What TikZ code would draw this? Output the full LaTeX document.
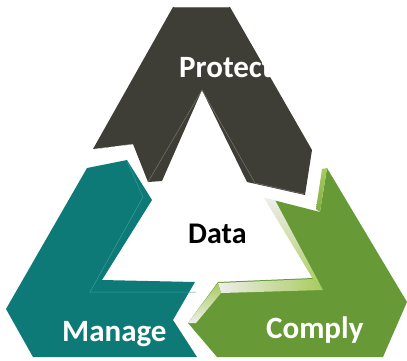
\documentclass[tikz,border=0pt]{standalone}
\usepackage{fontspec}
\setmainfont{Carlito}
\definecolor{darkarrow}{HTML}{3E3E37}
\definecolor{darkedge}{HTML}{77776F}
\definecolor{tealarrow}{HTML}{0D7A77}
\definecolor{tealedge}{HTML}{3E9B98}
\definecolor{greenarrow}{HTML}{679A36}
\definecolor{lightgreen}{HTML}{A8CB5C}
\definecolor{bevelgray}{HTML}{EEEEEC}
\begin{document}
\begin{tikzpicture}[x=1pt,y=-1pt,
  labeltext/.style={font=\bfseries\fontsize{31}{31}\selectfont, text=white, inner sep=0pt, anchor=base west},
  edgeline/.style={line width=0.5pt}]
\useasboundingbox (0,0) rectangle (407,360);
% teal arrow (Manage)
\fill[tealarrow] (87,168) -- (127,160) -- (152,200) -- (102,280) -- (195,282) -- (173,320) -- (197,357) -- (33,357) -- (6,309) -- cycle;
\draw[tealedge,edgeline] (127,161) -- (143,197) -- (90,292) -- (196,292);
% dark arrow (Protect)
\fill[darkarrow] (173,7) -- (230,7) -- (312,150) -- (305,195) -- (247,182) -- (202,90) -- (162,181) -- (148,182) -- (133,144) -- (93,149) -- cycle;
\draw[darkedge,edgeline] (148,182) -- (202,90) -- (255,183) -- (304,194);
\draw[darkedge,edgeline,dashed] (94,149) -- (133,144);
\draw[darkedge,edgeline] (174,7.3) -- (229,7.3);
% green arrow (Comply)
\fill[greenarrow] (327,168) -- (407,302) -- (383,357) -- (217,357) -- (188,323) -- (218,282) -- (313,278) -- (273,200) -- (320,212) -- cycle;
\shade[top color=bevelgray, bottom color=lightgreen] (264,198) -- (275,200) -- (323,290) -- (313,279) -- cycle;
\shade[left color=bevelgray, right color=lightgreen] (218,283) -- (313,279) -- (323,290) -- (221,293) -- cycle;
\shade[top color=lightgreen, bottom color=bevelgray] (218,283) -- (221,293) -- (196,323) -- (188,323) -- cycle;
\shade[top color=lightgreen, bottom color=greenarrow!60!lightgreen] (322,169) -- (327,168) -- (320,212) -- (316,209) -- cycle;
% labels
\node[labeltext] (protect) at (179,77) {Protect};
\node[labeltext] (manage) at (62,341) {Manage};
\node[labeltext] (comply) at (266,338) {Comply};
\node[labeltext, text=black, font=\bfseries\fontsize{30}{30}\selectfont] (data) at (188,243) {Data};
\end{tikzpicture}
\end{document}
